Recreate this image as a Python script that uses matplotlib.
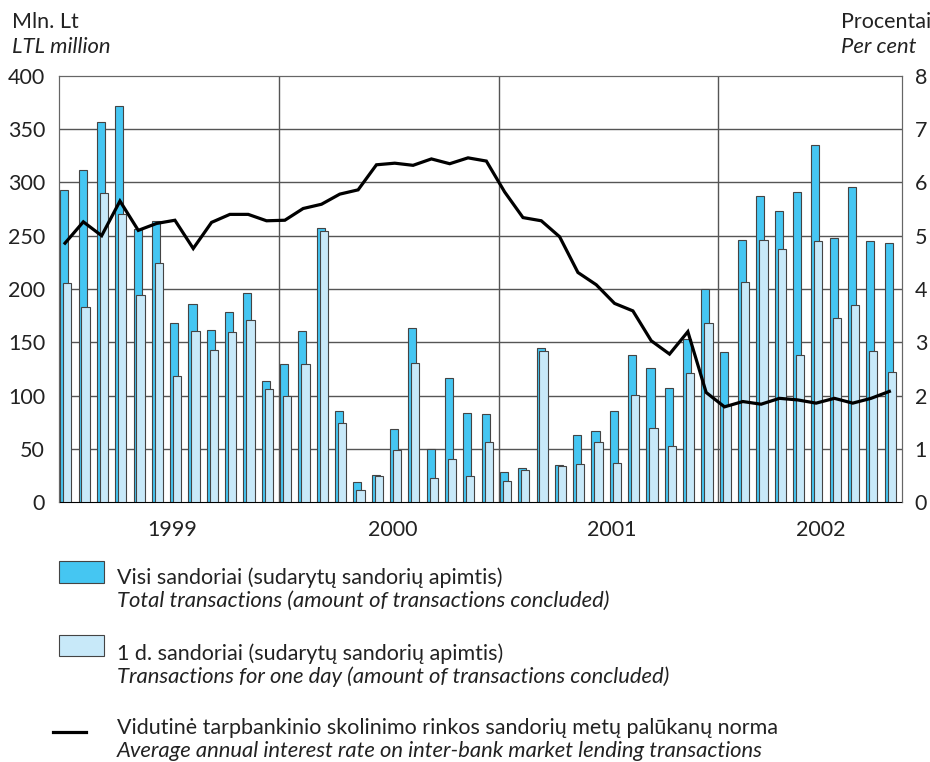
"""Tarpbankinės rinkos sandoriai ir palūkanų norma, 1999-2002 m. (mėnesiniai duomenys)."""
import numpy as np
import matplotlib
matplotlib.use('Agg')
import matplotlib.pyplot as plt
from matplotlib.patches import Rectangle
from matplotlib.lines import Line2D

plt.rcParams['font.family'] = ['Lato', 'DejaVu Sans']

# mėnesiai: 1999-01 ... 2002-10
years = ['1999', '2000', '2001', '2002']
year_label_pos = [6.2, 18.2, 30.2, 41.6]
year_bounds = [12, 24, 36]

# visi sandoriai, mln. Lt
total = [
    293, 312, 357, 372, 256, 264, 168, 186, 162, 178, 196, 114,   # 1999
    130, 161, 257, 86, 19, 26, 69, 163, 50, 117, 84, 83,          # 2000
    28, 32, 145, 35, 63, 67, 86, 138, 126, 107, 153, 200,         # 2001
    141, 246, 287, 273, 291, 335, 248, 296, 245, 243,             # 2002
]
# 1 d. sandoriai, mln. Lt
one_day = [
    206, 183, 290, 270, 194, 224, 118, 161, 143, 160, 171, 106,
    100, 130, 254, 74, 12, 25, 49, 131, 23, 41, 25, 57,
    20, 30, 142, 34, 36, 57, 37, 101, 70, 53, 121, 168,
    91, 207, 246, 238, 138, 245, 173, 185, 142, 122,
]
# vidutinė palūkanų norma, proc.
rate = [
    4.86, 5.26, 5.00, 5.65, 5.10, 5.23, 5.29, 4.76, 5.25, 5.40, 5.40, 5.28,
    5.29, 5.51, 5.59, 5.78, 5.86, 6.33, 6.36, 6.32, 6.44, 6.35, 6.46, 6.40,
    5.82, 5.34, 5.28, 4.98, 4.31, 4.08, 3.73, 3.59, 3.03, 2.78, 3.20, 2.06,
    1.79, 1.89, 1.84, 1.95, 1.92, 1.86, 1.95, 1.86, 1.95, 2.08,
]

DARK = '#45C6F2'
LIGHT = '#C8E9F9'
EDGE = '#444444'
TXT = '#222222'
FS = 15.5
FS_IT = 15.8

n = len(total)
x = np.arange(n)

fig = plt.figure(figsize=(9.3, 7.62), dpi=100)
ax = fig.add_axes([0.0634, 0.3408, 0.9061, 0.5598])

for yv in range(50, 400, 50):
    ax.axhline(yv, color='#555555', lw=1.0, zorder=0)
for xb in year_bounds:
    ax.axvline(xb, color='#555555', lw=1.0, zorder=0)

ax.bar(x + 0.07, total, width=0.44, align='edge', color=DARK,
       edgecolor=EDGE, linewidth=0.8, zorder=2)
ax.bar(x + 0.23, one_day, width=0.45, align='edge', color=LIGHT,
       edgecolor=EDGE, linewidth=0.8, zorder=3)

ax2 = ax.twinx()
ax2.plot(x + 0.33, rate, color='black', lw=2.3, zorder=5,
         solid_joinstyle='miter')

ax.set_xlim(0, n)
ax.set_ylim(0, 400)
ax2.set_ylim(0, 8)
ax.set_yticks(range(0, 401, 50))
ax2.set_yticks(range(0, 9))
ax.set_xticks([])
ax.tick_params(axis='y', length=0, pad=10, labelsize=FS, labelcolor=TXT)
ax2.tick_params(axis='y', length=0, pad=9.4, labelsize=FS, labelcolor=TXT)

for sp in ['left', 'top', 'right']:
    ax.spines[sp].set_color('#666666')
    ax2.spines[sp].set_color('#666666')
ax.spines['bottom'].set_color('black')
ax2.spines['bottom'].set_visible(False)

for yr, xp in zip(years, year_label_pos):
    ax.text(xp, -26, yr, ha='center', va='center', fontsize=FS, color=TXT)


def fx(px):
    return px / 930


def fy(py):
    return 1 - py / 762


fig.text(fx(12), fy(22), 'Mln. Lt', fontsize=FS, va='center', color=TXT)
fig.text(fx(12), fy(47), 'LTL million', fontsize=FS_IT, style='italic',
         va='center', color=TXT)
fig.text(fx(841), fy(22), 'Procentai', fontsize=FS, va='center', color=TXT)
fig.text(fx(841), fy(47), 'Per cent', fontsize=FS_IT, style='italic',
         va='center', color=TXT)

# legenda
fig.patches.append(Rectangle((fx(59), fy(583)), fx(104) - fx(59),
                             fy(561) - fy(583), transform=fig.transFigure,
                             facecolor=DARK, edgecolor=EDGE, lw=0.8))
fig.patches.append(Rectangle((fx(59), fy(656)), fx(104) - fx(59),
                             fy(635) - fy(656), transform=fig.transFigure,
                             facecolor=LIGHT, edgecolor=EDGE, lw=0.8))
fig.lines.append(Line2D([fx(53), fx(86)], [fy(732), fy(732)],
                        transform=fig.transFigure, color='black', lw=2.3))

legend_rows = [
    (578, 'Visi sandoriai (sudarytų sandorių apimtis)', 'normal'),
    (601, 'Total transactions (amount of transactions concluded)', 'italic'),
    (654, '1 d. sandoriai (sudarytų sandorių apimtis)', 'normal'),
    (677, 'Transactions for one day (amount of transactions concluded)', 'italic'),
    (728, 'Vidutinė tarpbankinio skolinimo rinkos sandorių metų palūkanų norma', 'normal'),
    (751, 'Average annual interest rate on inter-bank market lending transactions', 'italic'),
]
for py, txt, st in legend_rows:
    fig.text(fx(117), fy(py), txt, fontsize=FS_IT if st == 'italic' else FS,
             style=st, va='center', color=TXT)

fig.savefig('out.png', dpi=100)
